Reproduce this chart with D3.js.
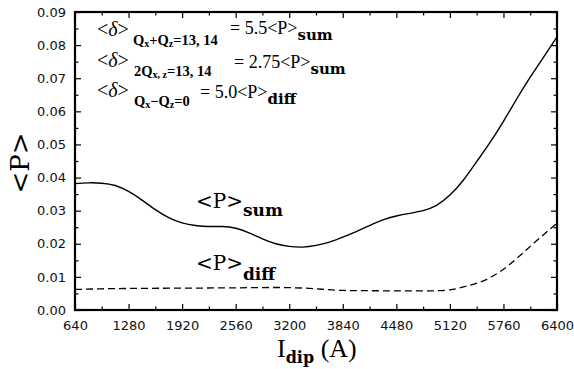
<!DOCTYPE html>
<html><head><meta charset="utf-8">
<script src="https://cdn.jsdelivr.net/npm/d3@7/dist/d3.min.js"></script>
<style>body{margin:0;background:#fff;} svg{display:block;}</style>
</head><body>
<script>
// ---- data ----
const sumX = [640, 800, 960, 1120, 1280, 1440, 1600, 1760, 1920, 2080, 2240, 2400, 2560, 2720, 2880, 3040, 3200, 3360, 3520, 3680, 3840, 4000, 4160, 4320, 4480, 4640, 4800, 4960, 5120, 5280, 5440, 5600, 5760, 5920, 6080, 6240, 6400];
const sumY = [0.0382, 0.0384, 0.0383, 0.0376, 0.0358, 0.0332, 0.0303, 0.0279, 0.0263, 0.0255, 0.0252, 0.0252, 0.0247, 0.0233, 0.0215, 0.0200, 0.0192, 0.0190, 0.0195, 0.0205, 0.0220, 0.0237, 0.0255, 0.0272, 0.0284, 0.0292, 0.0300, 0.0316, 0.0347, 0.0392, 0.0448, 0.0506, 0.0570, 0.0638, 0.0703, 0.0764, 0.0825];
const diffX = [640, 960, 1280, 1920, 2560, 3000, 3400, 3840, 4480, 4920, 5120, 5320, 5520, 5720, 5920, 6120, 6320, 6400];
const diffY = [0.0062, 0.0064, 0.0065, 0.0066, 0.0067, 0.0068, 0.0066, 0.0059, 0.0058, 0.0058, 0.0061, 0.0072, 0.0088, 0.0116, 0.0156, 0.0201, 0.0245, 0.0262];
const xTicks = [640, 1280, 1920, 2560, 3200, 3840, 4480, 5120, 5760, 6400];
const xMinor = [960, 1600, 2240, 2880, 3520, 4160, 4800, 5440, 6080];
const yTicks = [0, 0.01, 0.02, 0.03, 0.04, 0.05, 0.06, 0.07, 0.08, 0.09];
const yMinor = [0.005, 0.015, 0.025, 0.035, 0.045, 0.055, 0.065, 0.075, 0.085];

const W = 574, H = 369;
const L = 75, R = 557, T = 12, B = 310;
const svg = d3.select("body").append("svg").attr("width", W).attr("height", H);
const x = d3.scaleLinear().domain([640, 6400]).range([L, R]);
const y = d3.scaleLinear().domain([0, 0.09]).range([B, T]);

function styleAxis(g, labels) {
  g.select(".domain").remove();
  g.selectAll(".tick line").attr("stroke", "#000").attr("stroke-width", 1.2);
  g.selectAll("text").attr("font-family", "DejaVu Sans").attr("font-size", 13).attr("fill", "#111");
  if (!labels) g.selectAll("text").remove();
}
// bottom
svg.append("g").attr("transform", `translate(0,${B})`)
  .call(d3.axisBottom(x).tickValues(xTicks).tickSize(-6).tickPadding(11).tickFormat(d3.format("d")))
  .call(g => styleAxis(g, true));
svg.append("g").attr("transform", `translate(0,${B})`)
  .call(d3.axisBottom(x).tickValues(xMinor).tickSize(-3.5)).call(g => styleAxis(g, false));
// top
svg.append("g").attr("transform", `translate(0,${T})`)
  .call(d3.axisTop(x).tickValues(xTicks).tickSize(-6)).call(g => styleAxis(g, false));
svg.append("g").attr("transform", `translate(0,${T})`)
  .call(d3.axisTop(x).tickValues(xMinor).tickSize(-3.5)).call(g => styleAxis(g, false));
// left
svg.append("g").attr("transform", `translate(${L},0)`)
  .call(d3.axisLeft(y).tickValues(yTicks).tickSize(-6).tickPadding(9).tickFormat(d3.format(".2f")))
  .call(g => styleAxis(g, true));
svg.append("g").attr("transform", `translate(${L},0)`)
  .call(d3.axisLeft(y).tickValues(yMinor).tickSize(-3.5)).call(g => styleAxis(g, false));
// right
svg.append("g").attr("transform", `translate(${R},0)`)
  .call(d3.axisRight(y).tickValues(yTicks).tickSize(-6)).call(g => styleAxis(g, false));
svg.append("g").attr("transform", `translate(${R},0)`)
  .call(d3.axisRight(y).tickValues(yMinor).tickSize(-3.5)).call(g => styleAxis(g, false));

// frame
svg.append("rect").attr("x", L).attr("y", T).attr("width", R - L).attr("height", B - T)
  .attr("fill", "none").attr("stroke", "#000").attr("stroke-width", 2.2);

// curves
const line = d3.line().x(d => x(d[0])).y(d => y(d[1])).curve(d3.curveNatural);
svg.append("path").datum(sumX.map((v, i) => [v, sumY[i]]))
  .attr("d", line).attr("fill", "none").attr("stroke", "#000").attr("stroke-width", 1.4);
svg.append("path").datum(diffX.map((v, i) => [v, diffY[i]]))
  .attr("d", line.curve(d3.curveMonotoneX)).attr("fill", "none").attr("stroke", "#000").attr("stroke-width", 1.3)
  .attr("stroke-dasharray", "7,4");

// text helper
function txt(xp, yp, parts, base) {
  const t = svg.append("text").attr("x", xp).attr("y", yp).attr("fill", "#000")
    .attr("font-family", base.family).attr("font-size", base.size);
  parts.forEach(p => {
    const s = t.append("tspan").text(p.t);
    if (p.dy) s.attr("dy", p.dy);
    if (p.size) s.attr("font-size", p.size);
    if (p.bold) s.attr("font-weight", "bold");
    if (p.italic) s.attr("font-style", "italic");
    if (p.family) s.attr("font-family", p.family);
  });
  return t;
}
const serif = "Liberation Serif";
const dserif = "DejaVu Serif";
// annotation rows
const delta = [{t: "<"}, {t: "δ", italic: true}, {t: ">"}];
txt(97, 36, delta, {family: serif, size: 20});
txt(133, 45, [{t: "Q"}, {t: "x", size: 10, dy: 2}, {t: "+Q", dy: -2}, {t: "z", size: 10, dy: 2}, {t: "=13, 14", dy: -2}], {family: serif, size: 14.5}).attr("font-weight", "bold");
txt(230, 34, [{t: "= 5.5<P>"}, {t: "sum", family: dserif, bold: true, size: 15, dy: 6}], {family: serif, size: 18});

txt(97, 67, delta, {family: serif, size: 20});
txt(134, 76, [{t: "2Q"}, {t: "x, z", size: 10, dy: 2}, {t: "=13, 14", dy: -2}], {family: serif, size: 14.5}).attr("font-weight", "bold");
txt(234, 68, [{t: "= 2.75<P>"}, {t: "sum", family: dserif, bold: true, size: 15, dy: 6}], {family: serif, size: 18});

txt(97, 97, delta, {family: serif, size: 20});
txt(134, 106, [{t: "Q"}, {t: "x", size: 10, dy: 2}, {t: "−Q", dy: -2}, {t: "z", size: 10, dy: 2}, {t: "=0", dy: -2}], {family: serif, size: 14.5}).attr("font-weight", "bold");
txt(200, 98, [{t: "= 5.0<P>"}, {t: "diff", family: dserif, bold: true, size: 15, dy: 6}], {family: serif, size: 18});

// curve labels
txt(196, 208, [{t: "<P>"}, {t: "sum", family: dserif, bold: true, size: 17, dy: 8}], {family: dserif, size: 20});
txt(196, 270, [{t: "<P>"}, {t: "diff", family: dserif, bold: true, size: 17, dy: 10}], {family: dserif, size: 20});

// axis titles
svg.append("text").attr("transform", `translate(29,163) rotate(-90)`).attr("text-anchor", "middle")
  .attr("font-family", dserif).attr("font-size", 26).text("<P>");
txt(277, 357, [{t: "I"}, {t: "dip", family: dserif, bold: true, size: 16, dy: 6}, {t: " (A)", dy: -6}], {family: serif, size: 26});
</script>
</body></html>
